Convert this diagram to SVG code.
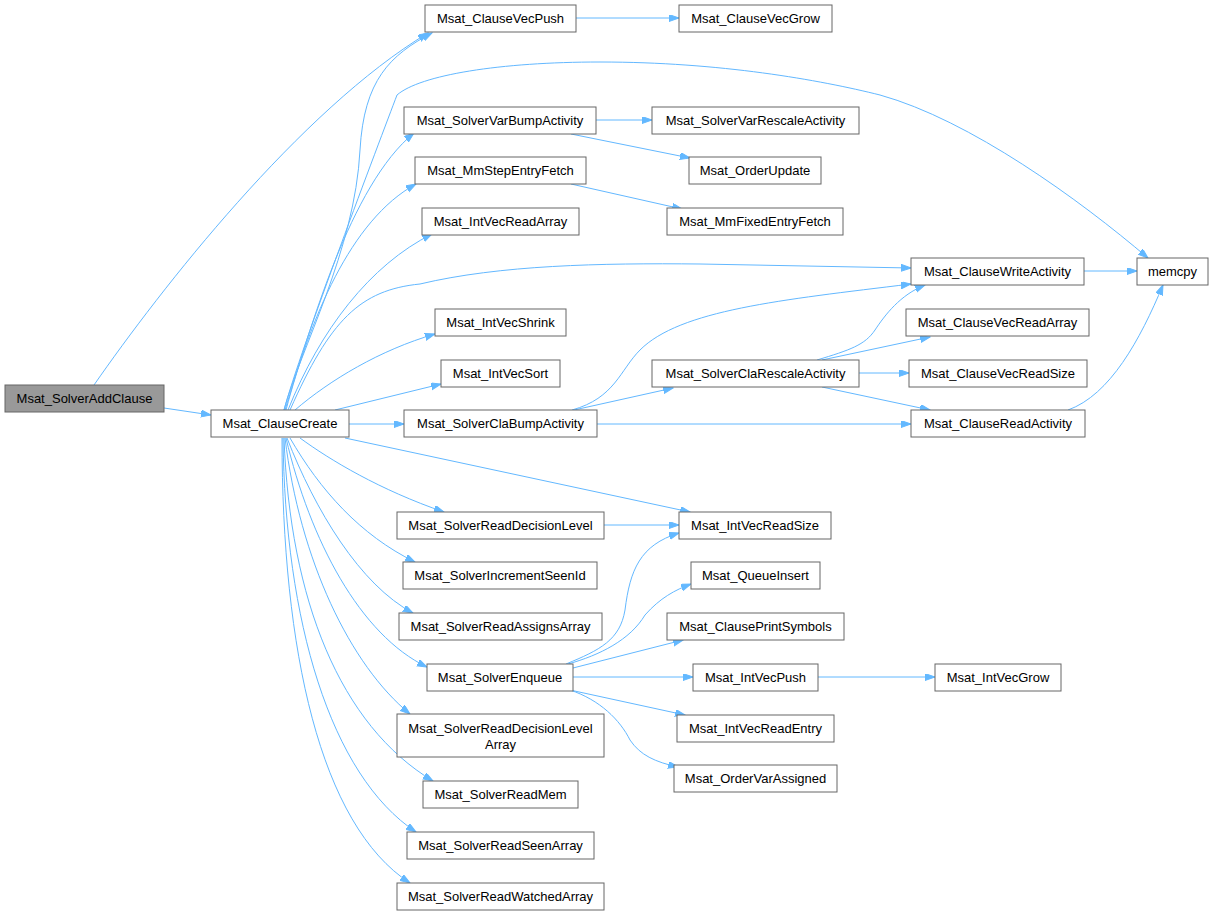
<svg xmlns="http://www.w3.org/2000/svg" width="1214" height="915" viewBox="0 0 1214 915">
<defs>
<style>
.n rect{fill:#ffffff;stroke:#666666;stroke-width:1}
.n.root rect{fill:#999999}
.n text{font-family:"Liberation Sans",Arial,sans-serif;font-size:13px;fill:#000000;text-anchor:middle}
.e path{fill:none;stroke:#63B8FF;stroke-width:1;marker-end:url(#ah)}
</style>
<marker id="ah" markerUnits="userSpaceOnUse" markerWidth="11" markerHeight="8" refX="10" refY="3.5" orient="auto">
<path d="M0,0 L10,3.5 L0,7 z" fill="#63B8FF" stroke="#63B8FF" stroke-width="1"/>
</marker>
</defs>
<rect width="1214" height="915" fill="#ffffff"/>
<g id="edges" class="e">
<path d="M94,385 C160,290 300,110 428,33"/>
<path d="M164,408 L211,415"/>
<path d="M284,410 C300,350 355,250 360,150 C364,80 390,55 432,33"/>
<path d="M284,410 C300,350 380,140 397,95 C420,75 500,62 600,62 C720,62 820,80 880,95 C970,120 1080,200 1148,258"/>
<path d="M285,410 C310,330 350,185 414,133"/>
<path d="M286,410 C310,320 350,220 416,184"/>
<path d="M288,410 C320,330 370,265 432,234"/>
<path d="M290,410 C330,320 360,290 420,284 C500,265 600,263 700,264 L911,268"/>
<path d="M295,410 C330,380 380,350 435,334"/>
<path d="M335,410 L441,384"/>
<path d="M349,424 L404,424"/>
<path d="M345,438 L690,512"/>
<path d="M300,438 C330,460 380,490 444,512"/>
<path d="M290,438 C320,490 360,535 415,562"/>
<path d="M287,438 C315,510 360,585 413,613"/>
<path d="M286,438 C310,540 360,635 427,667"/>
<path d="M285,438 C300,560 350,665 410,714"/>
<path d="M284,438 C290,600 340,725 433,781"/>
<path d="M283,438 C285,620 330,775 416,832"/>
<path d="M282,438 C282,650 320,825 410,883"/>
<path d="M576,18 L679,18"/>
<path d="M596,120 L652,120"/>
<path d="M571,134 L690,158"/>
<path d="M571,184 L682,209"/>
<path d="M1084,271 L1137,271"/>
<path d="M572,410 C615,398 620,370 640,350 C680,310 780,300 911,284"/>
<path d="M574,410 L673,388"/>
<path d="M597,424 L911,424"/>
<path d="M817,360 C850,350 865,345 875,330 C885,315 900,295 925,285"/>
<path d="M822,360 L930,337"/>
<path d="M859,373 L909,373"/>
<path d="M822,387 L930,410"/>
<path d="M1068,410 C1110,395 1140,340 1163,285"/>
<path d="M604,525 L679,525"/>
<path d="M566,664 C600,650 620,640 625,610 C630,570 640,545 679,533"/>
<path d="M568,664 C600,655 630,640 645,615 C660,598 675,590 691,584"/>
<path d="M573,668 L683,640"/>
<path d="M573,677 L693,677"/>
<path d="M570,690 L685,715"/>
<path d="M570,690 C600,700 620,720 630,740 C640,755 655,762 678,767"/>
<path d="M818,677 L935,677"/>
</g>
<g id="n_SolverAddClause" class="n root"><rect x="5" y="385" width="159" height="27"/><text x="84.5" y="403">Msat_SolverAddClause</text></g>
<g id="n_ClauseCreate" class="n"><rect x="211" y="410" width="138" height="27"/><text x="280" y="428">Msat_ClauseCreate</text></g>
<g id="n_ClauseVecPush" class="n"><rect x="425" y="5" width="151" height="27"/><text x="500.5" y="23">Msat_ClauseVecPush</text></g>
<g id="n_ClauseVecGrow" class="n"><rect x="679" y="5" width="153" height="27"/><text x="755.5" y="23">Msat_ClauseVecGrow</text></g>
<g id="n_SolverVarBumpActivity" class="n"><rect x="404" y="107" width="192" height="27"/><text x="500" y="125">Msat_SolverVarBumpActivity</text></g>
<g id="n_SolverVarRescaleActivity" class="n"><rect x="652" y="107" width="207" height="27"/><text x="755.5" y="125">Msat_SolverVarRescaleActivity</text></g>
<g id="n_MmStepEntryFetch" class="n"><rect x="415" y="157" width="171" height="27"/><text x="500.5" y="175">Msat_MmStepEntryFetch</text></g>
<g id="n_OrderUpdate" class="n"><rect x="689" y="157" width="132" height="27"/><text x="755" y="175">Msat_OrderUpdate</text></g>
<g id="n_IntVecReadArray" class="n"><rect x="422" y="208" width="157" height="27"/><text x="500.5" y="226">Msat_IntVecReadArray</text></g>
<g id="n_MmFixedEntryFetch" class="n"><rect x="667" y="208" width="176" height="27"/><text x="755" y="226">Msat_MmFixedEntryFetch</text></g>
<g id="n_ClauseWriteActivity" class="n"><rect x="911" y="258" width="173" height="27"/><text x="997.5" y="276">Msat_ClauseWriteActivity</text></g>
<g id="n_memcpy" class="n"><rect x="1137" y="258" width="71" height="27"/><text x="1172.5" y="276">memcpy</text></g>
<g id="n_IntVecShrink" class="n"><rect x="435" y="309" width="131" height="27"/><text x="500.5" y="327">Msat_IntVecShrink</text></g>
<g id="n_IntVecSort" class="n"><rect x="441" y="360" width="119" height="27"/><text x="500.5" y="378">Msat_IntVecSort</text></g>
<g id="n_SolverClaBumpActivity" class="n"><rect x="404" y="410" width="193" height="27"/><text x="500.5" y="428">Msat_SolverClaBumpActivity</text></g>
<g id="n_SolverClaRescaleActivity" class="n"><rect x="652" y="360" width="207" height="27"/><text x="755.5" y="378">Msat_SolverClaRescaleActivity</text></g>
<g id="n_ClauseVecReadArray" class="n"><rect x="906" y="309" width="183" height="27"/><text x="997.5" y="327">Msat_ClauseVecReadArray</text></g>
<g id="n_ClauseVecReadSize" class="n"><rect x="909" y="360" width="178" height="27"/><text x="998" y="378">Msat_ClauseVecReadSize</text></g>
<g id="n_ClauseReadActivity" class="n"><rect x="911" y="410" width="174" height="27"/><text x="998" y="428">Msat_ClauseReadActivity</text></g>
<g id="n_SolverReadDecisionLevel" class="n"><rect x="397" y="512" width="207" height="27"/><text x="500.5" y="530">Msat_SolverReadDecisionLevel</text></g>
<g id="n_IntVecReadSize" class="n"><rect x="679" y="512" width="152" height="27"/><text x="755" y="530">Msat_IntVecReadSize</text></g>
<g id="n_SolverIncrementSeenId" class="n"><rect x="403" y="562" width="194" height="27"/><text x="500" y="580">Msat_SolverIncrementSeenId</text></g>
<g id="n_QueueInsert" class="n"><rect x="691" y="562" width="129" height="27"/><text x="755.5" y="580">Msat_QueueInsert</text></g>
<g id="n_SolverReadAssignsArray" class="n"><rect x="399" y="613" width="203" height="27"/><text x="500.5" y="631">Msat_SolverReadAssignsArray</text></g>
<g id="n_ClausePrintSymbols" class="n"><rect x="667" y="613" width="177" height="27"/><text x="755.5" y="631">Msat_ClausePrintSymbols</text></g>
<g id="n_SolverEnqueue" class="n"><rect x="427" y="664" width="146" height="27"/><text x="500" y="682">Msat_SolverEnqueue</text></g>
<g id="n_IntVecPush" class="n"><rect x="693" y="664" width="125" height="27"/><text x="755.5" y="682">Msat_IntVecPush</text></g>
<g id="n_IntVecGrow" class="n"><rect x="935" y="664" width="126" height="27"/><text x="998" y="682">Msat_IntVecGrow</text></g>
<g id="n_SolverReadDecisionLevelArray" class="n"><rect x="397" y="714" width="207" height="43"/><text x="500.5" y="733">Msat_SolverReadDecisionLevel</text><text x="500.5" y="749">Array</text></g>
<g id="n_IntVecReadEntry" class="n"><rect x="677" y="715" width="157" height="27"/><text x="755.5" y="733">Msat_IntVecReadEntry</text></g>
<g id="n_OrderVarAssigned" class="n"><rect x="674" y="765" width="163" height="27"/><text x="755.5" y="783">Msat_OrderVarAssigned</text></g>
<g id="n_SolverReadMem" class="n"><rect x="423" y="781" width="155" height="27"/><text x="500.5" y="799">Msat_SolverReadMem</text></g>
<g id="n_SolverReadSeenArray" class="n"><rect x="407" y="832" width="187" height="27"/><text x="500.5" y="850">Msat_SolverReadSeenArray</text></g>
<g id="n_SolverReadWatchedArray" class="n"><rect x="397" y="883" width="207" height="27"/><text x="500.5" y="901">Msat_SolverReadWatchedArray</text></g>
</svg>
